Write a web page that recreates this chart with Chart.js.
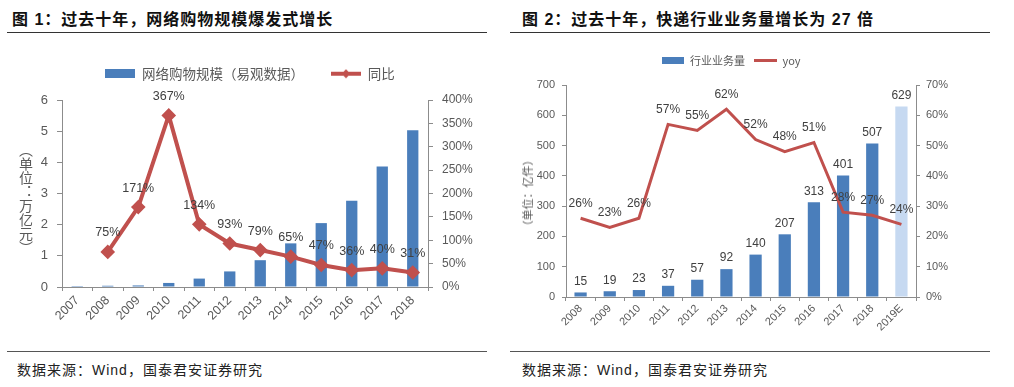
<!DOCTYPE html>
<html>
<head>
<meta charset="utf-8">
<script src="https://cdn.jsdelivr.net/npm/chart.js@4"></script>
<style>
  body { margin: 0; width: 1014px; height: 387px; background: #fff; position: relative; overflow: hidden;
         font-family: "Liberation Sans", "Noto Sans CJK SC", sans-serif; }
  .title { position: absolute; top: 6px; font: bold 16px "Liberation Sans", "Noto Sans CJK SC", sans-serif;
           letter-spacing: 1px; color: #111; white-space: nowrap; }
  .rule { position: absolute; height: 0; border-top: 1.5px solid #333; }
  .source { position: absolute; top: 359px; font-size: 14px; color: #222; letter-spacing: 1px; white-space: nowrap; }
  .wrap { position: absolute; top: 40px; }
  .ytitle1 { position: absolute; left: 16px; top: 143px; writing-mode: vertical-rl; font-size: 14px; color: #595959;
             font-family: "Noto Sans CJK SC", sans-serif; }
  .ytitle2 { position: absolute; left: 527px; top: 193px; transform: translate(-50%, -50%) rotate(-90deg);
             font-size: 11px; color: #595959; white-space: nowrap; font-family: "Noto Sans CJK SC", sans-serif; }
</style>
</head>
<body>
<div class="title" style="left:12px">图 1：过去十年，网络购物规模爆发式增长</div>
<div class="rule" style="left:7px; width:480px; top:32px"></div>
<div class="title" style="left:522px">图 2：过去十年，快递行业业务量增长为 27 倍</div>
<div class="rule" style="left:510px; width:480px; top:32px"></div>

<div class="wrap" style="left:0"><canvas id="chart1" width="500" height="305"></canvas></div>
<div class="wrap" style="left:505px"><canvas id="chart2" width="453" height="305"></canvas></div>
<div class="ytitle1">（单位：万亿元）</div>
<div class="ytitle2">（单位：亿件）</div>

<div class="rule" style="left:7px; width:480px; top:351px; border-color:#555"></div>
<div class="rule" style="left:510px; width:480px; top:351px; border-color:#555"></div>
<div class="source" style="left:17px">数据来源：Wind，国泰君安证券研究</div>
<div class="source" style="left:522px">数据来源：Wind，国泰君安证券研究</div>

<script>
// chart 1 data
const years1 = ['2007', '2008', '2009', '2010', '2011', '2012', '2013', '2014', '2015', '2016', '2017', '2018'];
const shopping = [0.03, 0.04, 0.05, 0.13, 0.27, 0.5, 0.86, 1.4, 2.05, 2.77, 3.87, 5.03];
const shoppingYoy = [null, 75, 171, 367, 134, 93, 79, 65, 47, 36, 40, 31];

// chart 2 data
const years2 = ['2008', '2009', '2010', '2011', '2012', '2013', '2014', '2015', '2016', '2017', '2018', '2019E'];
const parcels = [15, 19, 23, 37, 57, 92, 140, 207, 313, 401, 507, 629];
const parcelsYoy = [26, 23, 26, 57, 55, 62, 52, 48, 51, 28, 27, 24];

const BLUE = '#4a7ebb';
const LIGHT = '#c6d9f1';
const RED = '#c0504d';
const AXIS = '#8c8c8c';
const TICK = '#595959';

// legend swatches
function swatch(w, h, draw) {
  const c = document.createElement('canvas');
  c.width = w; c.height = h;
  draw(c.getContext('2d'));
  return c;
}
const barSwatch1 = swatch(30, 9, g => { g.fillStyle = BLUE; g.fillRect(0, 0, 30, 9); });
const lineSwatch1 = swatch(30, 10, g => {
  g.strokeStyle = RED; g.lineWidth = 4;
  g.beginPath(); g.moveTo(0, 5); g.lineTo(30, 5); g.stroke();
  g.fillStyle = RED; g.beginPath();
  g.moveTo(15, 0.5); g.lineTo(19.5, 5); g.lineTo(15, 9.5); g.lineTo(10.5, 5); g.closePath(); g.fill();
});
const barSwatch2 = swatch(22, 7, g => { g.fillStyle = BLUE; g.fillRect(0, 0, 22, 7); });
const lineSwatch2 = swatch(23, 3, g => { g.fillStyle = RED; g.fillRect(0, 0, 23, 3); });

// value labels above bars / points
const valueLabels = {
  id: 'valueLabels',
  afterDatasetsDraw(chart, args, opts) {
    const ctx = chart.ctx;
    ctx.save();
    ctx.font = opts.font;
    ctx.fillStyle = opts.color;
    ctx.textAlign = 'center';
    ctx.textBaseline = 'middle';
    chart.data.datasets.forEach((ds, i) => {
      const off = opts.offsets[i];
      if (off == null) return;
      chart.getDatasetMeta(i).data.forEach((el, j) => {
        const v = ds.data[j];
        if (v == null) return;
        ctx.fillText(ds.type === 'line' ? v + '%' : String(v), el.x, el.y - off);
      });
    });
    ctx.restore();
  }
};

// fixed legend height so the plot area lands where it should
function legendHeight(h) {
  return {
    id: 'legendHeight',
    beforeInit(chart) {
      const fit = chart.legend.fit;
      chart.legend.fit = function () { fit.call(this); this.height = h; };
    }
  };
}

function fixWidth(w) { return s => { s.width = w; }; }
function fixHeight(h) { return s => { s.height = h; }; }

new Chart(document.getElementById('chart1'), {
  data: {
    labels: years1,
    datasets: [
      { type: 'bar', label: '网络购物规模（易观数据）', data: shopping, backgroundColor: BLUE,
        yAxisID: 'y', order: 2, categoryPercentage: 1, barPercentage: 0.37 },
      { type: 'line', label: '同比', data: shoppingYoy, borderColor: RED, borderWidth: 4,
        pointStyle: 'rectRot', pointRadius: 4.5, pointBackgroundColor: RED, pointBorderColor: RED,
        yAxisID: 'y1', order: 1, tension: 0 }
    ]
  },
  options: {
    responsive: false,
    devicePixelRatio: 1,
    animation: false,
    layout: { padding: { left: 0, right: 0, top: 0, bottom: 0 } },
    plugins: {
      tooltip: { enabled: false },
      legend: {
        position: 'top',
        labels: {
          usePointStyle: true, pointStyleWidth: 30, boxHeight: 10, padding: 27,
          color: TICK, font: { size: 13.5, family: '"Noto Sans CJK SC", sans-serif' },
          generateLabels: chart => chart.data.datasets.map((ds, i) => ({
            text: ds.label, datasetIndex: i, pointStyle: [barSwatch1, lineSwatch1][i],
            fontColor: TICK, lineWidth: 0, hidden: false
          }))
        }
      },
      valueLabels: { font: '12.5px "Liberation Sans", sans-serif', color: '#404040', offsets: [null, 19] }
    },
    scales: {
      x: {
        afterFit: fixHeight(58),
        grid: { drawOnChartArea: false, tickLength: 4, color: AXIS },
        border: { color: AXIS },
        ticks: { color: TICK, font: { size: 12.5 }, minRotation: 45, maxRotation: 45, padding: 2 }
      },
      y: {
        position: 'left', min: 0, max: 6, afterFit: fixWidth(62),
        grid: { drawOnChartArea: false, tickLength: 5, color: AXIS },
        border: { color: AXIS },
        ticks: { stepSize: 1, color: TICK, font: { size: 13 }, padding: 9 }
      },
      y1: {
        position: 'right', min: 0, max: 400, afterFit: fixWidth(72),
        grid: { drawOnChartArea: false, tickLength: 5, color: AXIS },
        border: { color: AXIS },
        ticks: { stepSize: 50, color: TICK, font: { size: 12 }, padding: 9, callback: v => v + '%' }
      }
    }
  },
  plugins: [valueLabels, legendHeight(60)]
});

new Chart(document.getElementById('chart2'), {
  data: {
    labels: years2,
    datasets: [
      { type: 'bar', label: '行业业务量', data: parcels,
        backgroundColor: years2.map(y => y.endsWith('E') ? LIGHT : BLUE),
        yAxisID: 'y', order: 2, categoryPercentage: 1, barPercentage: 0.42 },
      { type: 'line', label: 'yoy', data: parcelsYoy, borderColor: RED, borderWidth: 3,
        pointRadius: 0, yAxisID: 'y1', order: 1, tension: 0 }
    ]
  },
  options: {
    responsive: false,
    devicePixelRatio: 1,
    animation: false,
    layout: { padding: { left: 0, right: 0, top: 5, bottom: 0 } },
    plugins: {
      tooltip: { enabled: false },
      legend: {
        position: 'top',
        labels: {
          usePointStyle: true, pointStyleWidth: 22, boxHeight: 8, padding: 10,
          color: TICK, font: { size: 11, family: '"Noto Sans CJK SC", sans-serif' },
          generateLabels: chart => chart.data.datasets.map((ds, i) => ({
            text: ds.label, datasetIndex: i, pointStyle: [barSwatch2, lineSwatch2][i],
            fontColor: TICK, lineWidth: 0, hidden: false
          }))
        }
      },
      valueLabels: { font: '12px "Liberation Sans", sans-serif', color: '#404040', offsets: [11, 15] }
    },
    scales: {
      x: {
        afterFit: fixHeight(48),
        grid: { drawOnChartArea: false, tickLength: 4, color: AXIS },
        border: { color: AXIS },
        ticks: { color: TICK, font: { size: 11 }, minRotation: 45, maxRotation: 45, padding: 1 }
      },
      y: {
        position: 'left', min: 0, max: 700, afterFit: fixWidth(61),
        grid: { drawOnChartArea: false, tickLength: 4, color: AXIS },
        border: { color: AXIS },
        ticks: { stepSize: 100, color: TICK, font: { size: 11 }, padding: 7 }
      },
      y1: {
        position: 'right', min: 0, max: 70, afterFit: fixWidth(42),
        grid: { drawOnChartArea: false, tickLength: 4, color: AXIS },
        border: { color: AXIS },
        ticks: { stepSize: 10, color: TICK, font: { size: 11 }, padding: 6, callback: v => v + '%' }
      }
    }
  },
  plugins: [valueLabels, legendHeight(40)]
});
</script>
</body>
</html>
